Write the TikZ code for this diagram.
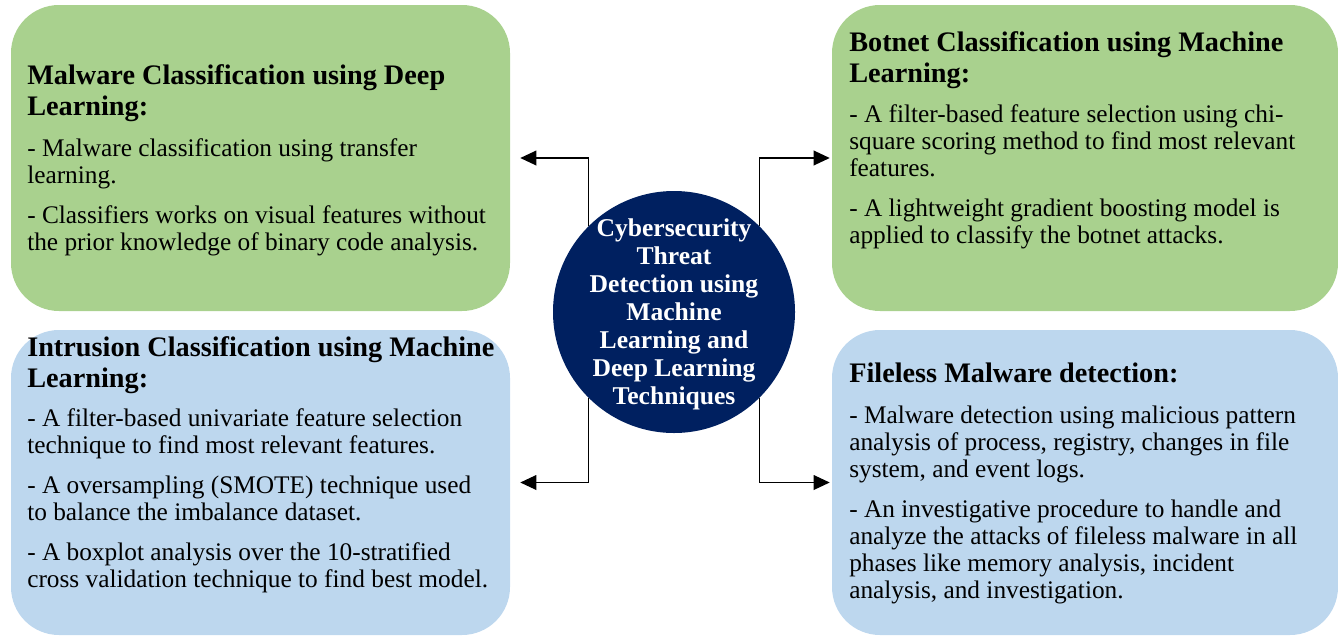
\documentclass[tikz,border=0pt]{standalone}
\usepackage{fontspec}
\setmainfont{Liberation Serif}
\usetikzlibrary{arrows.meta,calc}
\definecolor{boxgreen}{HTML}{A9D18E}
\definecolor{boxblue}{HTML}{BDD7EE}
\definecolor{hubnavy}{HTML}{002060}
\begin{document}
\begin{tikzpicture}[x=0.75pt,y=-0.75pt,
  panel/.style={rectangle, rounded corners=36pt, inner sep=0pt, draw=none},
  greenpanel/.style={panel, fill=boxgreen},
  bluepanel/.style={panel, fill=boxblue},
  headtext/.style={anchor=base west, align=left, inner sep=0pt, font=\bfseries\fontsize{21.2}{23.25}\selectfont},
  bodytext/.style={anchor=base west, align=left, inner sep=0pt, font=\fontsize{19}{20.25}\selectfont},
  hub/.style={circle, fill=hubnavy, minimum size=181.5pt, inner sep=0pt},
  hubtext/.style={inner sep=0pt, text=white, align=center, font=\bfseries\fontsize{19.2}{21}\selectfont},
  link/.style={line width=1pt, -{Triangle[length=12pt,width=11pt]}}
]
\useasboundingbox (0,0) rectangle (1338,636);

\node[greenpanel, minimum width=374.25pt, minimum height=229.5pt] (tl) at (260.5,158) {};
\node[greenpanel, minimum width=379.5pt, minimum height=229.5pt] (tr) at (1085,158) {};
\node[bluepanel, minimum width=374.25pt, minimum height=228.75pt] (bl) at (260.5,482.5) {};
\node[bluepanel, minimum width=379.5pt, minimum height=228.75pt] (br) at (1085,482.5) {};

\node[hub] (hub) at (674,312) {};
\node[hubtext] (hubt) at (674,314) {Cybersecurity\\Threat\\Detection using\\Machine\\Learning and\\Deep Learning\\Techniques};

\draw[link, shorten >=7.5pt] (hub.135) |- (tl.east);
\draw[link, shorten >=1.5pt] (hub.45) |- (tr.west);
\draw[link, shorten >=7.5pt] (hub.225) |- (bl.east);
\draw[link, shorten >=1.5pt] (hub.315) |- (br.west);

\node[headtext] (tlh) at (27,115) {Malware Classification using Deep\\Learning:};
\node[bodytext] (tlb) at (27,250) {- Malware classification using transfer\\learning.\\[9.75pt]- Classifiers works on visual features without\\the prior knowledge of binary code analysis.};

\node[headtext] (trh) at (849,82) {Botnet Classification using Machine\\Learning:};
\node[bodytext] (trb) at (849,243) {- A filter-based feature selection using chi-\\square scoring method to find most relevant\\features.\\[9.75pt]- A lightweight gradient boosting model is\\applied to classify the botnet attacks.};

\node[headtext] (blh) at (27,387) {Intrusion Classification using Machine\\Learning:};
\node[bodytext] (blb) at (27,587) {- A filter-based univariate feature selection\\technique to find most relevant features.\\[9.75pt]- A oversampling (SMOTE) technique used\\to balance the imbalance dataset.\\[9.75pt]- A boxplot analysis over the 10-stratified\\cross validation technique to find best model.};

\node[headtext] (brh) at (849,382) {Fileless Malware detection:};
\node[bodytext] (brb) at (849,598) {- Malware detection using malicious pattern\\analysis of process, registry, changes in file\\system, and event logs.\\[9.75pt]- An investigative procedure to handle and\\analyze the attacks of fileless malware in all\\phases like memory analysis, incident\\analysis, and investigation.};
\end{tikzpicture}
\end{document}
